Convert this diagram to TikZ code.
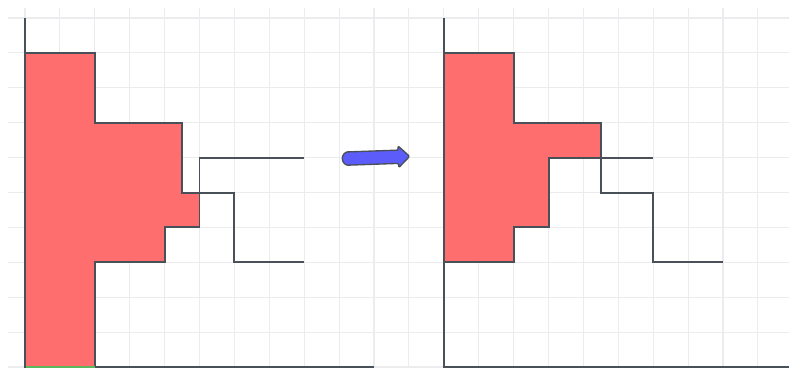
\documentclass[tikz,border=0pt]{standalone}
\usetikzlibrary{calc}

\definecolor{cellred}{RGB}{255,110,110}
\definecolor{arrowblue}{RGB}{92,92,250}
\definecolor{inkgray}{RGB}{74,80,88}
\definecolor{gridgray}{RGB}{236,236,238}
\definecolor{basegreen}{RGB}{92,184,92}

\begin{document}
\begin{tikzpicture}[
  gridline/.style={draw=gridgray, line width=0.9pt},
  axis/.style={draw=inkgray, line width=1.7pt},
  region/.style={fill=cellred, draw=inkgray, line width=1.6pt, line join=miter},
  profile/.style={draw=inkgray, line width=1.6pt},
  fatarrow/.style={fill=arrowblue, draw=inkgray, line width=1.1pt, rounded corners=1pt},
]
\useasboundingbox (-0.716,-0.057) rectangle (21.89,10.516);

% === Background grid ===
\draw[gridline] (-0.5,0) grid (22.5,10.3);

% === Left panel ===
\path[region] (0,9) -- (2,9) -- (2,7) -- (4.5,7) -- (4.5,5) -- (5,5) -- (5,4)
  -- (4,4) -- (4,3) -- (2,3) -- (2,0) -- (0,0) -- cycle;
\draw[profile] (8,6) -- (5,6) -- (5,5) -- (6,5) -- (6,3) -- (8,3);
\draw[axis] (0,10) -- (0,0) -- (10,0);
\draw[draw=basegreen, line width=1.4pt] (0.03,0) -- (2,0);

% === Arrow between panels ===
\path[fatarrow, rotate around={2:(10,6)}] (10.7,6.19) -- (10.7,6.31) -- (11.02,6)
  -- (10.7,5.69) -- (10.7,5.81) -- (9.28,5.81) arc (270:90:0.19) -- cycle;

% === Right panel ===
\begin{scope}[xshift=12cm]
\path[region] (0,9) -- (2,9) -- (2,7) -- (4.5,7) -- (4.5,6) -- (3,6) -- (3,4)
  -- (2,4) -- (2,3) -- (0,3) -- cycle;
\draw[profile] (6,6) -- (4.5,6) -- (4.5,5) -- (6,5) -- (6,3) -- (8,3);
\draw[axis] (0,10) -- (0,0) -- (10,0);
\end{scope}

\end{tikzpicture}
\end{document}
